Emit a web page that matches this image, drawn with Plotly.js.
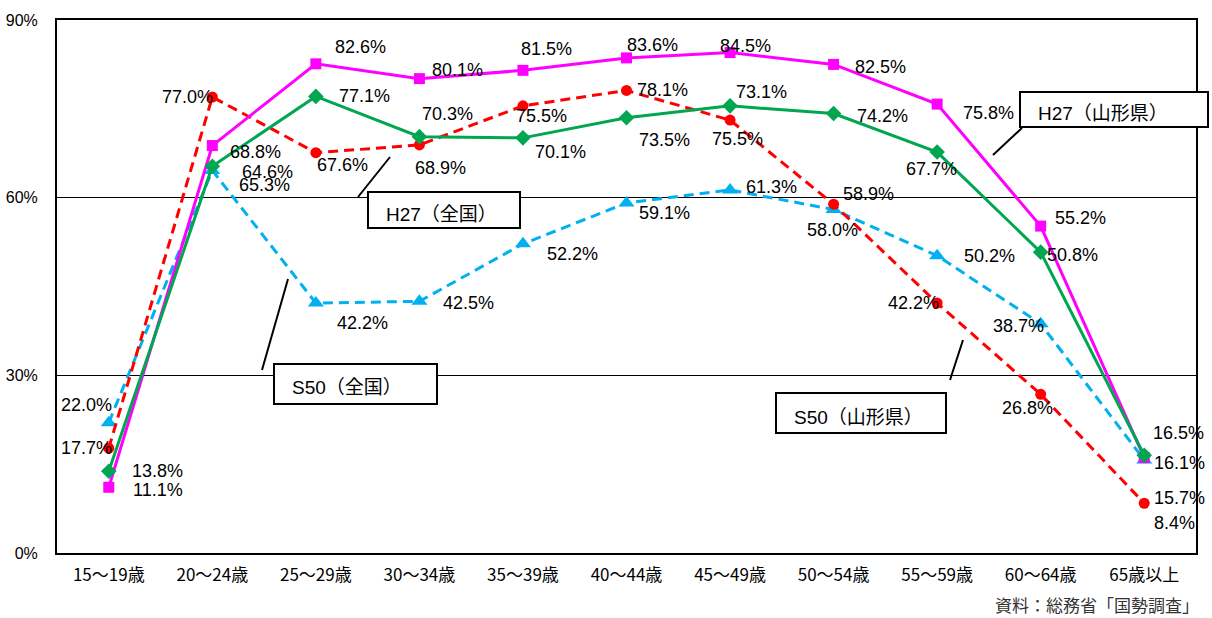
<!DOCTYPE html>
<html><head><meta charset="utf-8">
<script src="https://cdn.plot.ly/plotly-3.0.1.min.js"></script>
<style>body{margin:0;background:#fff}#chart{width:1212px;height:618px}</style>
</head><body><div id="chart"></div>
<script>
const categories = ['15～19歳','20～24歳','25～29歳','30～34歳','35～39歳','40～44歳','45～49歳','50～54歳','55～59歳','60～64歳','65歳以上'];
const h27Yamagata = [11.1,68.8,82.6,80.1,81.5,83.6,84.5,82.5,75.8,55.2,16.1];
const h27Zenkoku  = [13.8,65.3,77.1,70.3,70.1,73.5,75.5,74.2,67.7,50.8,16.5];
const s50Yamagata = [17.7,77.0,67.6,68.9,75.5,78.1,73.1,58.9,42.2,26.8,8.4];
const s50Zenkoku  = [22.0,64.6,42.2,42.5,52.2,59.1,61.3,58.0,50.2,38.7,15.7];
const yTicks = [0,30,60,90];
const yTickText = ['0%','30%','60%','90%'];
const seriesNames = ['H27（山形県）','H27（全国）','S50（山形県）','S50（全国）'];
const sourceText = '資料：総務省「国勢調査」';

// label offsets in pixels [dx, dy(up)]
const offH27Y = [[49,-3],[43,-6],[45,17],[38,9],[24,21],[26,13],[15,7],[47,-3],[51,-9],[40,8],[35,-5]];
const offH27Z = [[49,0],[52,-19],[49,0],[28,23],[38,-14],[38,-22],[7,-33],[49,-2],[-6,-17],[32,-3],[34,22]];
const offS50Y = [[-22,0],[-25,0],[27,-12],[21,-23],[19,-10],[36,0],[31,28],[35,10],[-24,0],[-13,-14],[30,-20]];
const offS50Z = [[-22,18],[55,-2],[47,-20],[49,-2],[50,-10],[38,-10],[41,3],[-1,-20],[52,0],[-22,-2],[35,-38]];

const labelFont = {family:"'Liberation Sans',Arial,sans-serif", size:18, color:'#000'};
const boxFont = {family:"'Liberation Sans','Noto Sans CJK JP',sans-serif", size:19, color:'#000'};
const xTickFont = {family:"'Noto Sans CJK JP',sans-serif", size:17, color:'#000'};
const yTickFont = {family:"'Liberation Sans',Arial,sans-serif", size:16, color:'#000'};

const x = categories.map((c,i)=>i);
const traces = [
  {x, y:s50Zenkoku, name:seriesNames[3], mode:'lines+markers', line:{color:'#00B0F0', width:3, dash:'10px,6px'}, marker:{symbol:'triangle-up', size:14, color:'#00B0F0'}},
  {x, y:s50Yamagata, name:seriesNames[2], mode:'lines+markers', line:{color:'#FF0000', width:3, dash:'10px,6px'}, marker:{symbol:'circle', size:11, color:'#FF0000'}},
  {x, y:h27Yamagata, name:seriesNames[0], mode:'lines+markers', line:{color:'#FF00FF', width:3}, marker:{symbol:'square', size:11, color:'#FF00FF'}},
  {x, y:h27Zenkoku, name:seriesNames[1], mode:'lines+markers', line:{color:'#00A650', width:3}, marker:{symbol:'diamond', size:12, color:'#00A650'}}
];

const annotations = [];
function addLabels(vals, offs){
  vals.forEach((v,i)=>{
    annotations.push({x:i, y:v, xref:'x', yref:'y', text:v.toFixed(1)+'%', showarrow:false,
      xshift:offs[i][0], yshift:offs[i][1], xanchor:'center', yanchor:'middle', font:labelFont});
  });
}
addLabels(h27Yamagata, offH27Y);
addLabels(h27Zenkoku, offH27Z);
addLabels(s50Yamagata, offS50Y);
addLabels(s50Zenkoku, offS50Z);

// plot area pixel helpers
const L=57, R=1196, T=20, B=553;
const px = v => (v-L)/(R-L);
const py = v => (B-v)/(B-T);

const boxes = [
  {text:seriesNames[0], x0:1020, y0:92, x1:1208, y1:127, lx0:1022, ly0:128, lx1:993, ly1:155},
  {text:seriesNames[1], x0:368, y0:192, x1:520, y1:228, lx0:358, ly0:197, lx1:390, ly1:157},
  {text:seriesNames[3], x0:274, y0:364, x1:437, y1:404, lx0:262, ly0:370, lx1:288, ly1:279},
  {text:seriesNames[2], x0:776, y0:393, x1:946, y1:433, lx0:950, ly0:380, lx1:963, ly1:340}
];
const shapes = [];
boxes.forEach(b=>{
  shapes.push({type:'line', xref:'paper', yref:'paper', x0:px(b.lx0), y0:py(b.ly0), x1:px(b.lx1), y1:py(b.ly1), line:{color:'#000', width:2}, layer:'above'});
  shapes.push({type:'rect', xref:'paper', yref:'paper', x0:px(b.x0), y0:py(b.y0), x1:px(b.x1), y1:py(b.y1), fillcolor:'#fff', line:{color:'#000', width:2}, layer:'above'});
  annotations.push({xref:'paper', yref:'paper', x:px(b.x0+16), y:py((b.y0+b.y1)/2+4), xanchor:'left', yanchor:'middle', text:b.text, showarrow:false, font:boxFont});
});
annotations.push({xref:'paper', yref:'paper', x:px(1201), y:py(604), xanchor:'right', yanchor:'middle', text:sourceText, showarrow:false, font:{family:"'Noto Sans CJK JP',sans-serif", size:17, color:'#333'}});

const layout = {
  width:1212, height:618,
  margin:{l:L, r:1212-R, t:T, b:618-B},
  paper_bgcolor:'#fff', plot_bgcolor:'#fff',
  showlegend:false,
  xaxis:{type:'linear', range:[-0.5,10.5], tickvals:x, ticktext:categories, showgrid:false, zeroline:false,
    showline:true, mirror:true, linecolor:'#000', linewidth:2, ticks:'', tickfont:xTickFont, ticklabelstandoff:6, fixedrange:true},
  yaxis:{range:[0,90], tickvals:yTicks, ticktext:yTickText, showgrid:true, gridcolor:'#000', gridwidth:1, zeroline:false,
    showline:true, mirror:true, linecolor:'#000', linewidth:2, ticks:'', tickfont:yTickFont, ticklabelstandoff:14, fixedrange:true},
  annotations, shapes
};
Plotly.newPlot('chart', traces, layout, {displayModeBar:false, staticPlot:true});
</script></body></html>
